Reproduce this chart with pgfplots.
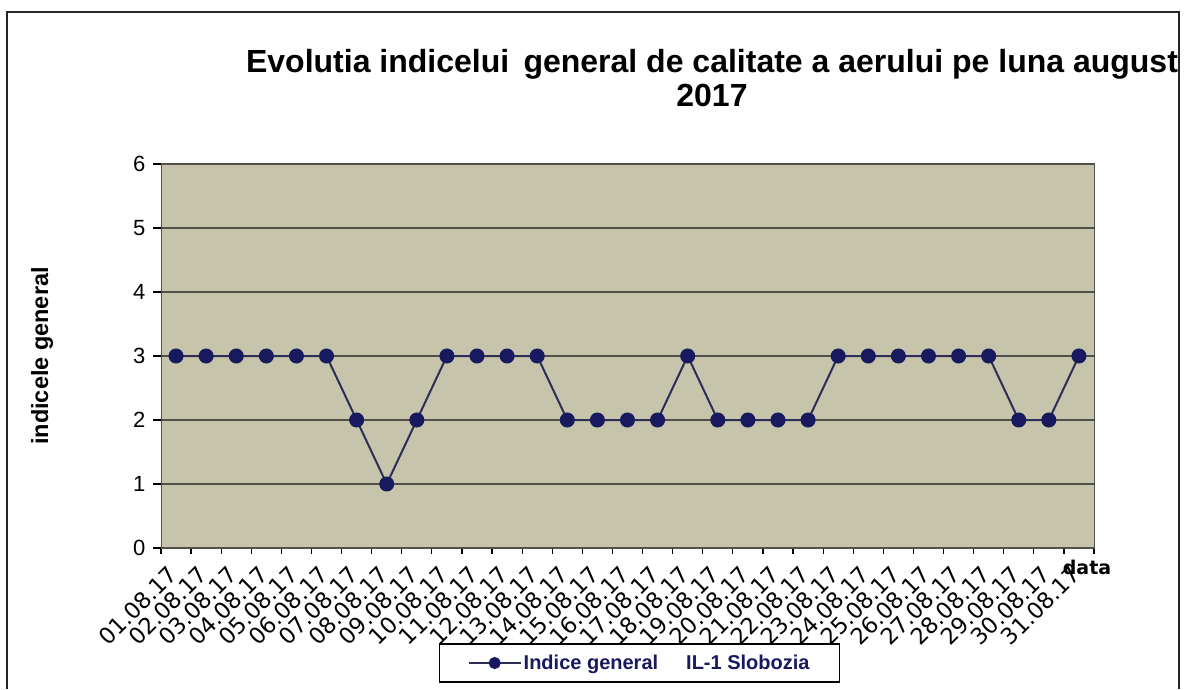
\documentclass[border=0pt]{standalone}
\usepackage{fontspec}
\setmainfont{Liberation Sans}
\newfontfamily\dejavu{DejaVu Sans}
\usepackage{pgfplots}
\pgfplotsset{compat=1.18}
\definecolor{bgkhaki}{RGB}{198,197,172}
\definecolor{navy}{RGB}{25,25,95}
\definecolor{linec}{RGB}{45,45,85}
\definecolor{gridc}{RGB}{80,80,75}
\begin{document}
\begin{tikzpicture}[x=1pt,y=1pt]
\useasboundingbox (0,0) rectangle (1186,689);
\draw[line width=1.5pt, black!85] (7,0) -- (7,677) -- (1179,677) -- (1179,0);
\node[font=\fontsize{32}{34}\selectfont\bfseries, align=center] at (712,611) {Evolutia indicelui\, general de calitate a aerului pe luna august\\2017};
\node[font=\fontsize{23.5}{26}\selectfont\bfseries, rotate=90] at (42,333) {indicele general};
\node[font=\fontsize{19}{22}\selectfont\dejavu\bfseries] at (1087,122) {data};
\begin{axis}[
  at={(161pt,141pt)}, anchor=south west,
  width=933pt, height=384pt, scale only axis,
  xmin=-0.5, xmax=30.5, ymin=0, ymax=6,
  ytick={0,1,...,6},
  xtick={0,1,...,30},
  xticklabels={01.08.17,02.08.17,03.08.17,04.08.17,05.08.17,06.08.17,07.08.17,08.08.17,09.08.17,10.08.17,11.08.17,12.08.17,13.08.17,14.08.17,15.08.17,16.08.17,17.08.17,18.08.17,19.08.17,20.08.17,21.08.17,22.08.17,23.08.17,24.08.17,25.08.17,26.08.17,27.08.17,28.08.17,29.08.17,30.08.17,31.08.17},
  minor xtick={-0.5,0.5,...,30.5},
  major x tick style={draw=none},
  minor tick length=6pt,
  major tick length=8pt,
  tick align=outside,
  tick pos=left,
  tick style={black, line width=1.2pt},
  axis line style={gridc, line width=1pt},
  axis background/.style={fill=bgkhaki},
  ymajorgrids,
  grid style={gridc, line width=1.2pt},
  /pgf/number format/assume math mode=true,
  yticklabel style={font=\fontsize{22}{24}\selectfont, xshift=-4pt},
  xticklabel style={font=\fontsize{22.5}{25}\selectfont\dejavu, xshift=-9pt, yshift=-8pt, rotate=45, anchor=north east, inner sep=0pt},
  legend style={at={(0.513,-0.2995)}, anchor=center, draw=black, line width=1.2pt, fill=white,
    font=\fontsize{20}{22}\selectfont\bfseries, text=navy, inner xsep=28pt, inner ysep=9pt, legend cell align=left},
  legend image code/.code={\draw[#1, mark repeat=2, mark phase=2, mark size=5pt] plot coordinates {(0pt,0pt) (26pt,0pt) (52pt,0pt)};},
]
\addplot[color=linec, line width=2pt, mark=*, mark size=6.5pt, mark options={fill=navy, draw=navy}] coordinates {
(0,3) (1,3) (2,3) (3,3) (4,3) (5,3) (6,2) (7,1) (8,2) (9,3) (10,3) (11,3) (12,3) (13,2) (14,2) (15,2) (16,2) (17,3) (18,2) (19,2) (20,2) (21,2) (22,3) (23,3) (24,3) (25,3) (26,3) (27,3) (28,2) (29,2) (30,3)};
\addlegendentry{Indice general\hspace{28pt}IL-1 Slobozia}
\end{axis}
\end{tikzpicture}
\end{document}
